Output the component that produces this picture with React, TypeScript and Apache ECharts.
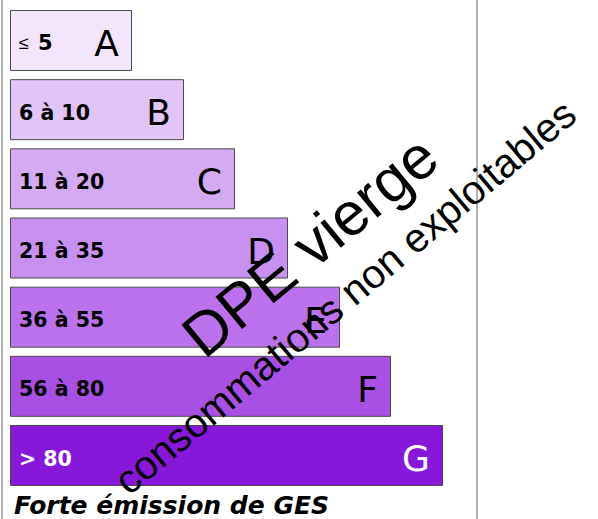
import React, { useEffect, useRef } from "react";
import * as echarts from "echarts";

const classes = ["A", "B", "C", "D", "E", "F", "G"];
const ranges = ["≤ 5", "6 à 10", "11 à 20", "21 à 35", "36 à 55", "56 à 80", "> 80"];
const barLengths = [122, 174, 225, 278, 330, 381, 433];
const colors = ["#f3e6fc", "#e1c4f8", "#d4aaf3", "#c890f0", "#bb72ec", "#a84fe4", "#8718da"];
const textColors = ["#000", "#000", "#000", "#000", "#000", "#000", "#fff"];
const footer = "Forte émission de GES";
const watermarkMain = "DPE vierge";
const watermarkSub = "consommations non exploitables";

export default function App() {
  const ref = useRef<HTMLDivElement>(null);
  useEffect(() => {
    if (!ref.current) return;
    const chart = echarts.init(ref.current, undefined, { renderer: "svg" });
    const deg = Math.PI / 180;
    chart.setOption({
      animation: false,
      grid: { left: 10, top: 5.9, width: 433, height: 484.2 },
      xAxis: { type: "value", min: 0, max: 433, show: false },
      yAxis: { type: "category", data: classes, inverse: true, show: false },
      series: [
        {
          type: "bar",
          barWidth: 61,
          data: barLengths.map((v, i) => ({
            value: v,
            itemStyle: { color: colors[i], borderColor: "#4a4a4a", borderWidth: 1 },
            label: { color: textColors[i] },
          })),
          label: {
            show: true,
            position: "insideLeft",
            distance: 9,
            offset: [0, 3],
            fontFamily: "DejaVu Sans",
            fontWeight: "bold",
            fontSize: 20.5,
            formatter: (p: any) => {
              const r = ranges[p.dataIndex];
              if (r.startsWith("≤")) return "{le|≤}{n|" + r.slice(1).trim() + "}";
              return r;
            },
            rich: {
              le: { fontFamily: "Liberation Sans", fontSize: 18, fontWeight: "normal", padding: [0, 9, 0, 0], color: "#000" },
              n: { fontFamily: "DejaVu Sans", fontSize: 21, fontWeight: "bold", color: "#000" },
            },
          },
          z: 2,
        },
        {
          type: "bar",
          barWidth: 61,
          barGap: "-100%",
          data: barLengths.map((v, i) => ({
            value: v,
            label: { color: textColors[i] },
          })),
          itemStyle: { color: "rgba(0,0,0,0)" },
          label: {
            show: true,
            position: "insideRight",
            distance: 13,
            offset: [0, 3],
            fontFamily: "DejaVu Sans",
            fontSize: 36,
            formatter: (p: any) => classes[p.dataIndex],
          },
          z: 3,
        },
      ],
      graphic: [
        { type: "line", shape: { x1: 2, y1: 0, x2: 2, y2: 519 }, style: { stroke: "#999", lineWidth: 1.5 }, z: 50 },
        { type: "line", shape: { x1: 477, y1: 0, x2: 477, y2: 519 }, style: { stroke: "#b0b0b0", lineWidth: 2 }, z: 50 },
        {
          type: "text",
          x: 14,
          y: 505,
          style: { text: footer, font: 'italic bold 25px "DejaVu Sans"', fill: "#000", align: "left", verticalAlign: "middle" },
          z: 50,
        },
        {
          type: "text",
          x: 310,
          y: 246,
          rotation: 39.5 * deg,
          style: { text: watermarkMain, font: '61px "Liberation Sans"', fill: "#000", align: "center", verticalAlign: "middle" },
          z: 100,
        },
        {
          type: "text",
          x: 345,
          y: 297,
          rotation: 40 * deg,
          style: { text: watermarkSub, font: '40.5px "Liberation Sans"', fill: "#000", align: "center", verticalAlign: "middle" },
          z: 100,
        },
      ],
    });
    return () => chart.dispose();
  }, []);
  return (
    <div
      ref={ref}
      style={{ position: "fixed", left: 0, top: 0, width: 598, height: 519, background: "#fff" }}
    />
  );
}
